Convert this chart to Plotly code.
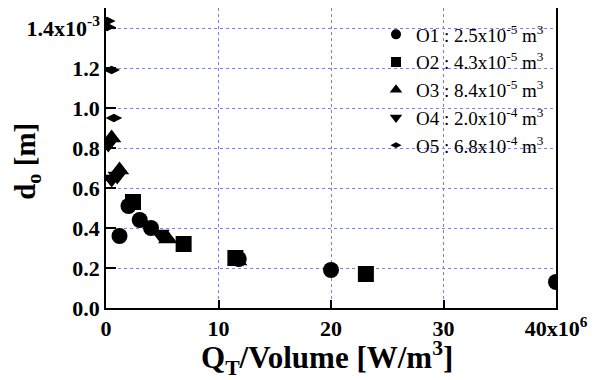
import plotly.graph_objects as go

# Data: x in units of 1e6 W/m^3, y in units of 1e-3 m
o1_x = [1.2, 2.0, 3.0, 4.0, 11.8, 20.0, 40.0]
o1_y = [0.36, 0.51, 0.44, 0.40, 0.245, 0.19, 0.13]
o2_x = [2.4, 6.9, 11.5, 23.1]
o2_y = [0.53, 0.32, 0.25, 0.17]
o3_x = [0.5, 1.2, 5.5, 11.7]
o3_y = [0.85, 0.69, 0.345, 0.235]
o4_x = [0.2, 0.5, 1.0, 4.8]
o4_y = [0.82, 0.645, 0.66, 0.37]
o5_x = [0.1, 0.1, 0.5, 0.7]
o5_y = [1.435, 1.405, 1.19, 0.95]

names = [
    "O1 : 2.5x10<sup>-5</sup> m<sup>3</sup>",
    "O2 : 4.3x10<sup>-5</sup> m<sup>3</sup>",
    "O3 : 8.4x10<sup>-5</sup> m<sup>3</sup>",
    "O4 : 2.0x10<sup>-4</sup> m<sup>3</sup>",
    "O5 : 6.8x10<sup>-4</sup> m<sup>3</sup>",
]

x_tickvals = [0, 10, 20, 30, 40]
x_ticktext = ["0", "10", "20", "30", "40x10<sup>6</sup>"]
y_tickvals = [0.0, 0.2, 0.4, 0.6, 0.8, 1.0, 1.2, 1.4]
y_ticktext = ["0.0", "0.2", "0.4", "0.6", "0.8", "1.0", "1.2", "1.4x10<sup>-3</sup>"]

x_title = "<b>Q<sub>T</sub>/Volume [W/m<sup>3</sup>]</b>"
y_title = "<b>d<sub>o</sub> [m]</b>"

series = [
    (o1_x, o1_y, "circle", 16, 10),
    (o2_x, o2_y, "square", 16, 10),
    (o3_x, o3_y, "triangle-up", 17, 11),
    (o4_x, o4_y, "triangle-down", 17, 11),
    (o5_x, o5_y, "diamond-wide", 12, 8),
]

SERIF = "Liberation Serif"

fig = go.Figure()
for (xs, ys, sym, size, lsize), name in zip(series, names):
    fig.add_trace(go.Scatter(
        x=xs, y=ys, mode="markers", showlegend=False,
        marker=dict(symbol=sym, size=size, color="black", line=dict(width=0)),
    ))
for (xs, ys, sym, size, lsize), name in zip(series, names):
    fig.add_trace(go.Scatter(
        x=[None], y=[None], mode="markers", name=name,
        marker=dict(symbol=sym, size=lsize, color="black", line=dict(width=0)),
    ))

grid_col = "#7a7aff"
fig.update_layout(
    width=599, height=380,
    margin=dict(l=98, r=51, t=0, b=80),
    paper_bgcolor="white", plot_bgcolor="white",
    font=dict(family=SERIF, color="black"),
    legend=dict(
        x=0.6, xanchor="left", y=0.975, yanchor="top",
        bgcolor="rgba(0,0,0,0)", font=dict(size=19, family=SERIF, color="black"),
        tracegroupgap=0, itemwidth=30,
    ),
    xaxis=dict(
        range=[0, 40], tickvals=x_tickvals,
        ticktext=["<b>%s</b>" % t for t in x_ticktext],
        ticks="inside", ticklen=8, tickwidth=1.5, tickcolor="black",
        showline=True, linecolor="black", linewidth=1.5, mirror=True,
        showgrid=True, gridcolor=grid_col, griddash="dot", gridwidth=1,
        zeroline=False, automargin=False,
        tickfont=dict(size=22, family=SERIF, color="black"),
    ),
    yaxis=dict(
        range=[0, 1.5], tickvals=y_tickvals,
        ticktext=["<b>%s</b>" % t for t in y_ticktext],
        ticks="inside", ticklen=10, tickwidth=1.5, tickcolor="black",
        showline=True, linecolor="black", linewidth=1.5, mirror=True,
        showgrid=True, gridcolor=grid_col, griddash="dot", gridwidth=1,
        zeroline=False, automargin=False,
        tickfont=dict(size=22, family=SERIF, color="black"),
    ),
    annotations=[
        dict(text=x_title, xref="paper", yref="paper", x=0.491, y=-0.166,
             xanchor="center", yanchor="middle", showarrow=False,
             font=dict(size=31, family=SERIF, color="black")),
        dict(text=y_title, xref="paper", yref="paper", x=-0.176, y=0.49,
             xanchor="center", yanchor="middle", showarrow=False, textangle=-90,
             font=dict(size=29, family=SERIF, color="black")),
    ],
)
fig.write_html("out.html")
